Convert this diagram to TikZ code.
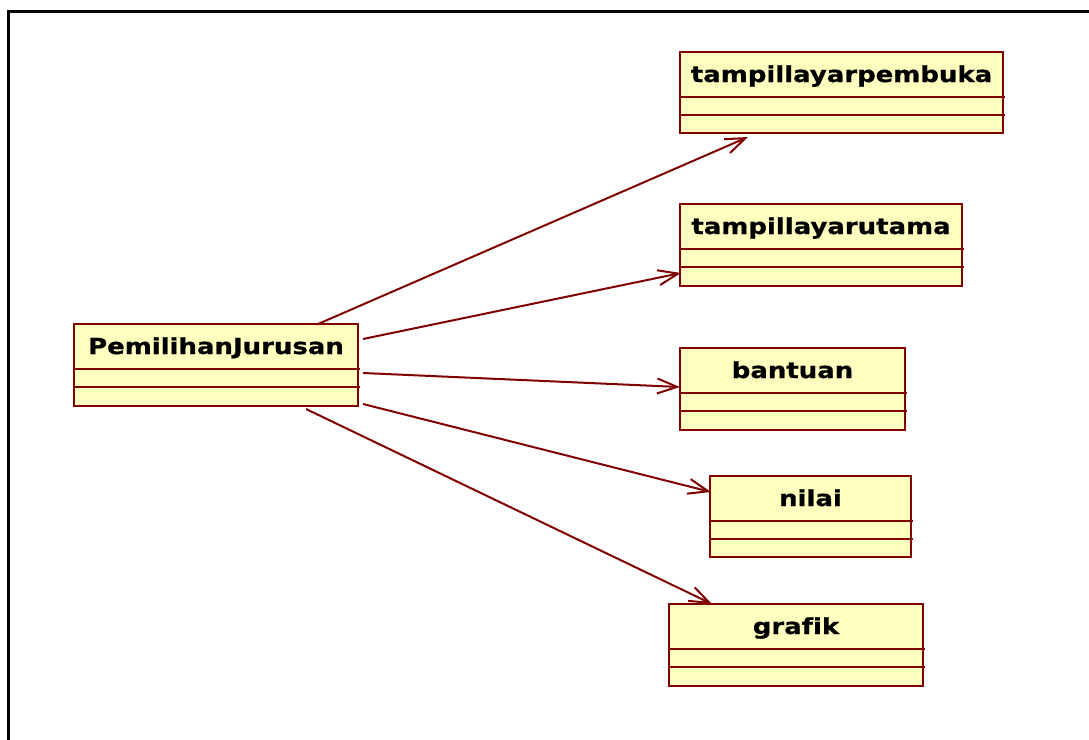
\documentclass[tikz,border=0pt]{standalone}
\usepackage{fontspec}
\setmainfont{DejaVu Sans}
\newfontfamily\classfont[FakeStretch=1.18, Ligatures=NoCommon, BoldFeatures={FakeBold=0.8}]{DejaVu Sans}
\usetikzlibrary{arrows.meta,calc}
\definecolor{umlborder}{RGB}{128,0,0}
\definecolor{umlfill}{RGB}{255,255,192}

% \umlclass{name}{left}{top}{right}{bottom}{title}
\newcommand{\umlclass}[6]{%
  \node[classbox, minimum width={(#4-#2)*1pt}, minimum height={(#5-#3)*1pt}] (#1) at (#2,#3) {};
  \node[classname] (#1-title) at ($(#1.north)+(0,30)$) {#6};
  \draw[divider] ($(#1.north west)+(0,45)$) -- ($(#1.north east)+(2,45)$);
  \draw[divider] ($(#1.north west)+(0,63)$) -- ($(#1.north east)+(2,63)$);
}

\begin{document}
\begin{tikzpicture}[x=1pt,y=-1pt,
  classbox/.style={draw=umlborder, fill=umlfill, line width=2.5pt, inner sep=0pt, outer sep=0pt, anchor=north west},
  classname/.style={font=\classfont\fontsize{22}{26}\selectfont\bfseries, text=black, inner sep=0pt, anchor=base},
  divider/.style={draw=umlborder, line width=2.5pt},
  assoc/.style={draw=umlborder, line width=2pt, -{Straight Barb[length=20pt,width=15pt]}},
  diagramframe/.style={draw=black, line width=3pt}]
\useasboundingbox (0,0) rectangle (1089,739);

% diagram frame
\draw[diagramframe] (8,745) -- (8,11) -- (1095,11);

% classes
\umlclass{pj}{74}{324}{358}{406}{PemilihanJurusan}
\umlclass{pembuka}{680}{52}{1003}{133}{tampillayarpembuka}
\umlclass{utama}{680}{204}{962}{286}{tampillayarutama}
\umlclass{bantuan}{680}{348}{905}{430}{bantuan}
\umlclass{nilai}{710}{476}{911}{557}{nilai}
\umlclass{grafik}{669}{604}{923}{686}{grafik}

% associations
\draw[assoc] ($(pj.north west)+(244,0)$) -- ($(pembuka.south west)+(68,4)$);
\draw[assoc] ($(pj.north east)+(5,15)$) -- ($(utama.north west)+(1,69)$);
\draw[assoc] ($(pj.north east)+(5,49)$) -- ($(bantuan.north west)+(0,39)$);
\draw[assoc] ($(pj.north east)+(5,80)$) -- ($(nilai.north west)+(1,16)$);
\draw[assoc] ($(pj.south west)+(232,3)$) -- ($(grafik.north west)+(43,0)$);
\end{tikzpicture}
\end{document}
